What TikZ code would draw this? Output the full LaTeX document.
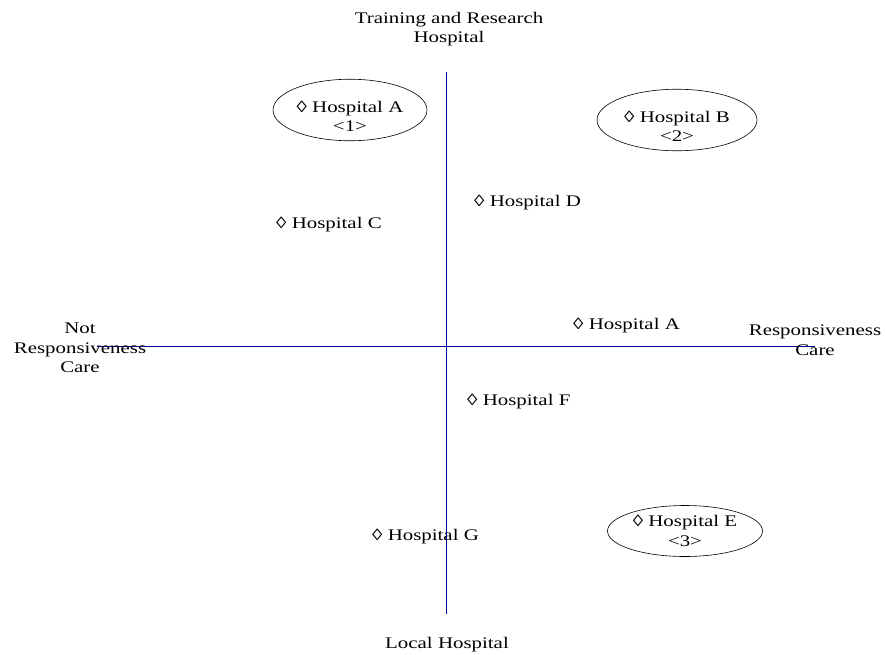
\documentclass[tikz,border=0pt]{standalone}
\usepackage{fontspec}
\setmainfont[FakeStretch=1.29]{Liberation Serif}
\usetikzlibrary{shapes.geometric}
\definecolor{axisblue}{RGB}{0,0,150}
\begin{document}
\begin{tikzpicture}[x=1pt,y=1pt,
  lbl/.style={inner sep=0pt, font=\fontsize{16.2}{19.5}\selectfont, align=center},
  pt/.style={lbl, anchor=west},
  cluster/.style={draw, line width=0.6pt, ellipse, inner sep=0pt, font=\fontsize{16.2}{19.5}\selectfont, align=center},
  axis/.style={draw=axisblue, line width=0.9pt}]
\useasboundingbox (0,0) rectangle (885,-654);
% axes
\coordinate (vtop) at (446,-72);
\coordinate (vbot) at (446,-614);
\coordinate (hleft) at (97,-346);
\coordinate (hright) at (815,-346);
\draw[axis] (vtop) -- (vbot);
\draw[axis] (hleft) -- (hright);
% axis labels
\node[lbl] (top) at (449,-29) {Training and Research\\Hospital};
\node[lbl] (bot) at (447,-645) {Local Hospital};
\node[lbl] (left) at (80,-348) {Not\\Responsiveness\\Care};
\node[lbl] (right) at (815,-340) {Responsiveness\\Care};
% clusters
\node[cluster, minimum width=154pt, minimum height=51pt] (ca) at (350,-110) {\rule{0pt}{24pt}◊ Hospital A\\<1>};
\node[cluster, minimum width=160pt, minimum height=49pt] (cb) at (677,-120) {\rule{0pt}{24pt}◊ Hospital B\\<2>};
\node[cluster, minimum width=155pt, minimum height=51pt] (ce) at (685,-531) {◊ Hospital E\\<3>};
% points
\node[pt] (hd) at (474,-203) {◊ Hospital D};
\node[pt] (hc) at (276,-225) {◊ Hospital C};
\node[pt] (ha2) at (573,-326) {◊ Hospital A};
\node[pt] (hf) at (467,-402) {◊ Hospital F};
\node[pt] (hg) at (372,-537) {◊ Hospital G};
\end{tikzpicture}
\end{document}
